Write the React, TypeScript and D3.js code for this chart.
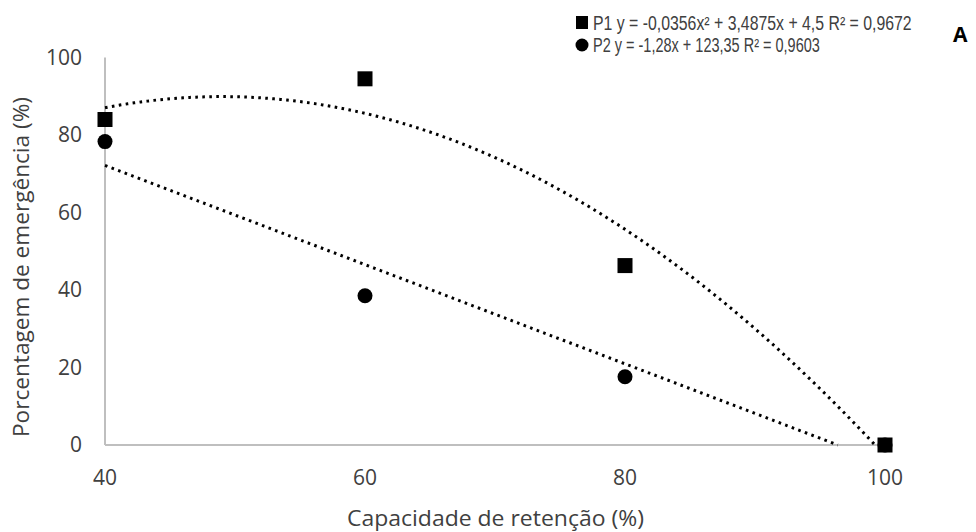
import React, { useLayoutEffect, useRef, useState } from "react";
import * as d3 from "d3";

const xValues = [40, 60, 80, 100];
const p1Values = [84, 94.5, 46.3, 0];
const p2Values = [78.3, 38.5, 17.6, 0];
const yTicks = [0, 20, 40, 60, 80, 100];
const xTicks = [40, 60, 80, 100];
const p1Coef = [-0.0356, 3.4875, 4.5];
const p2Coef = [-1.28, 123.35];
const legend1 = "P1 y = -0,0356x² + 3,4875x + 4,5 R² = 0,9672";
const legend2 = "P2  y = -1,28x + 123,35 R² = 0,9603";

const W = 976;
const H = 532;
const FONT = "'Open Sans', 'DejaVu Sans', sans-serif";
const LEGEND_FONT = "'Liberation Sans', Arial, sans-serif";

function FitText({
  x,
  y,
  width,
  fontSize,
  children,
}: {
  x: number;
  y: number;
  width: number;
  fontSize: number;
  children: string;
}) {
  const ref = useRef<SVGTextElement>(null);
  const [s, setS] = useState(1);
  useLayoutEffect(() => {
    if (ref.current) {
      const len = ref.current.getComputedTextLength();
      if (len > 0) setS(width / len);
    }
  }, [width, children]);
  return (
    <text
      ref={ref}
      transform={`translate(${x},${y}) scale(${s},1)`}
      fontSize={fontSize}
      fontFamily={LEGEND_FONT}
      fill="#404040"
    >
      {children}
    </text>
  );
}

export default function App() {
  const x = d3.scaleLinear().domain([40, 100]).range([105, 885]);
  const y = d3.scaleLinear().domain([0, 100]).range([445, 57.5]);

  const quad = (v: number) => p1Coef[0] * v * v + p1Coef[1] * v + p1Coef[2];
  const lin = (v: number) => p2Coef[0] * v + p2Coef[1];

  const sample = (f: (v: number) => number) => {
    const pts: [number, number][] = [];
    for (const v of d3.range(40, 100.001, 0.25)) {
      const val = f(v);
      if (val >= 0) pts.push([v, val]);
      else {
        const prev = pts[pts.length - 1];
        if (prev) {
          const fv = prev[1];
          const t = fv / (fv - val);
          pts.push([prev[0] + t * (v - prev[0]), 0]);
        }
        break;
      }
    }
    return pts;
  };

  const line = d3
    .line<[number, number]>()
    .x((d) => x(d[0]))
    .y((d) => y(d[1]));

  const t1 = sample(quad);
  const t2 = sample(lin);

  return (
    <svg
      width={W}
      height={H}
      style={{ position: "absolute", left: 0, top: 0, background: "#fff" }}
      fontFamily={FONT}
    >
      <rect x={0} y={0} width={W} height={H} fill="#fff" />
      {/* axes */}
      <line x1={x(40)} x2={x(40)} y1={57.5} y2={y(0)} stroke="#bfbfbf" strokeWidth={2} />
      <line x1={x(40)} x2={x(100)} y1={y(0)} y2={y(0)} stroke="#bfbfbf" strokeWidth={2} />

      {/* y ticks */}
      {yTicks.map((t) => (
        <text
          key={"y" + t}
          x={82}
          y={y(t)}
          dy="0.35em"
          textAnchor="end"
          fontSize={21}
          fill="#404040"
        >
          {t}
        </text>
      ))}
      {/* x ticks */}
      {xTicks.map((t) => (
        <text
          key={"x" + t}
          x={x(t)}
          y={485}
          textAnchor="middle"
          fontSize={21}
          fill="#404040"
        >
          {t}
        </text>
      ))}

      {/* axis titles */}
      <text
        x={495.5}
        y={526}
        textAnchor="middle"
        fontSize={21}
        fill="#404040"
        textLength={297}
        lengthAdjust="spacingAndGlyphs"
      >
        Capacidade de retenção (%)
      </text>
      <text
        transform="translate(29,267) rotate(-90)"
        textAnchor="middle"
        fontSize={21}
        fill="#404040"
        textLength={340}
        lengthAdjust="spacingAndGlyphs"
      >
        Porcentagem de emergência (%)
      </text>

      {/* trend lines */}
      <path d={line(t1) || ""} fill="none" stroke="#000" strokeWidth={3} strokeDasharray="2.6 4.4" />
      <path d={line(t2) || ""} fill="none" stroke="#000" strokeWidth={3} strokeDasharray="2.6 4.4" />

      {/* P2 circles */}
      {xValues.map((v, i) => (
        <circle key={"c" + i} cx={x(v)} cy={y(p2Values[i])} r={7.5} fill="#000" />
      ))}
      {/* P1 squares */}
      {xValues.map((v, i) => (
        <rect
          key={"s" + i}
          x={x(v) - 7.5}
          y={y(p1Values[i]) - 7.5}
          width={15}
          height={15}
          fill="#000"
        />
      ))}

      {/* legend */}
      <rect x={576} y={16} width={12} height={13} fill="#000" />
      <FitText x={593} y={30} width={319} fontSize={19.5}>
        {legend1}
      </FitText>
      <circle cx={582} cy={45} r={6.5} fill="#000" />
      <FitText x={593} y={52} width={227} fontSize={19.5}>
        {legend2}
      </FitText>

      <text x={953} y={42} fontSize={21} fontWeight="bold" fill="#000">
        A
      </text>
    </svg>
  );
}
